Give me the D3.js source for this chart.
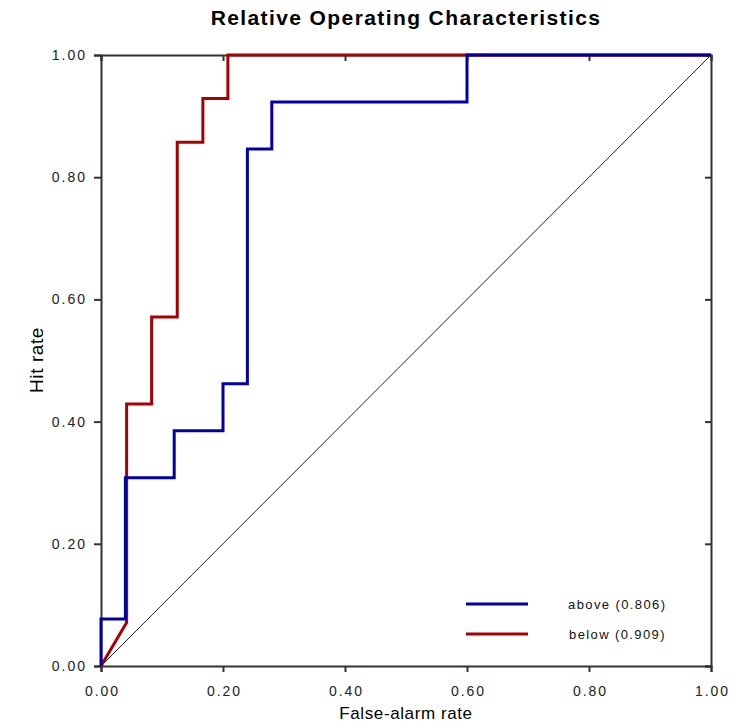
<!DOCTYPE html>
<html>
<head>
<meta charset="utf-8">
<script src="https://cdn.jsdelivr.net/npm/d3@7"></script>
<style>
  body { margin: 0; background: #fff; }
  text { font-family: "Liberation Sans", Arial, sans-serif; }
</style>
</head>
<body>
<script>
// ROC step curves (false-alarm rate, hit rate)
var aboveFar = [0, 0, 0.04, 0.04, 0.12, 0.12, 0.20, 0.20, 0.24, 0.24, 0.28, 0.28, 0.60, 0.60, 1.00];
var aboveHit = [0, 0.077, 0.077, 0.308, 0.308, 0.385, 0.385, 0.462, 0.462, 0.846, 0.846, 0.923, 0.923, 1.00, 1.00];
var belowFar = [0, 0.042, 0.042, 0.083, 0.083, 0.125, 0.125, 0.167, 0.167, 0.208, 0.208, 1.00];
var belowHit = [0, 0.071, 0.429, 0.429, 0.571, 0.571, 0.857, 0.857, 0.929, 0.929, 1.00, 1.00];
var seriesNames = ["above (0.806)", "below (0.909)"];
var seriesColors = ["#0000a8", "#a80000"];
var tickValues = [0, 0.2, 0.4, 0.6, 0.8, 1.0];

var svg = d3.select("body").append("svg")
            .attr("width", 731)
            .attr("height", 723);

var x = d3.scaleLinear().domain([0, 1]).range([101, 711]);
var y = d3.scaleLinear().domain([0, 1]).range([666, 55]);

var fmt = d3.format(".2f");
var axisColor = "#333";

// bottom and left axes, ticks outward
var gx = svg.append("g").attr("transform", "translate(0,666)")
            .call(d3.axisBottom(x).tickValues(tickValues).tickFormat(fmt).tickSize(6).tickPadding(14));
var gy = svg.append("g").attr("transform", "translate(101,0)")
            .call(d3.axisLeft(y).tickValues(tickValues).tickFormat(fmt).tickSize(7).tickPadding(7));
// top and right axes, ticks inward
var gt = svg.append("g").attr("transform", "translate(0,55)")
            .call(d3.axisTop(x).tickValues(tickValues).tickFormat("").tickSize(-6));
var gr = svg.append("g").attr("transform", "translate(711,0)")
            .call(d3.axisRight(y).tickValues(tickValues).tickFormat("").tickSize(-6));

[gx, gy, gt, gr].forEach(function(g) {
    g.select(".domain").attr("stroke", axisColor).attr("stroke-width", 2);
    g.selectAll(".tick line").attr("stroke", axisColor).attr("stroke-width", 2);
    g.selectAll(".tick text").attr("fill", "#222").attr("font-size", "14px")
     .attr("letter-spacing", "2px")
     .attr("font-family", "'Liberation Sans', Arial, sans-serif");
});
gx.selectAll(".tick text").attr("dx", "1px");

// diagonal no-skill line
svg.append("line")
   .attr("x1", x(0)).attr("y1", y(0))
   .attr("x2", x(1)).attr("y2", y(1))
   .attr("stroke", "#222").attr("stroke-width", 1);

var line = d3.line().x(function(d) { return x(d[0]); }).y(function(d) { return y(d[1]); });

var belowPts = belowFar.map(function(v, i) { return [v, belowHit[i]]; });
var abovePts = aboveFar.map(function(v, i) { return [v, aboveHit[i]]; });

svg.append("path").datum(belowPts)
   .attr("d", line).attr("fill", "none")
   .attr("stroke", seriesColors[1]).attr("stroke-width", 3);
svg.append("path").datum(abovePts)
   .attr("d", line).attr("fill", "none")
   .attr("stroke", seriesColors[0]).attr("stroke-width", 3);

// legend
seriesNames.forEach(function(name, i) {
    var ly = 604 + i * 30;
    svg.append("line").attr("x1", 466).attr("x2", 528)
       .attr("y1", ly).attr("y2", ly)
       .attr("stroke", seriesColors[i]).attr("stroke-width", 3);
    svg.append("text").attr("x", 568 + i).attr("y", ly + 5)
       .attr("font-size", "13px").attr("fill", "#111")
       .attr("letter-spacing", "1.4px")
       .text(name);
});

// titles
svg.append("text").attr("x", 406).attr("y", 25)
   .attr("text-anchor", "middle").attr("font-size", "21px").attr("font-weight", "bold")
   .attr("letter-spacing", "1.4px")
   .text("Relative Operating Characteristics");

svg.append("text").attr("x", 406).attr("y", 719)
   .attr("text-anchor", "middle").attr("font-size", "17px")
   .attr("letter-spacing", "0.6px")
   .text("False-alarm rate");

svg.append("text").attr("transform", "translate(43,360) rotate(-90)")
   .attr("text-anchor", "middle").attr("font-size", "19px")
   .attr("letter-spacing", "0.6px")
   .text("Hit rate");
</script>
</body>
</html>
